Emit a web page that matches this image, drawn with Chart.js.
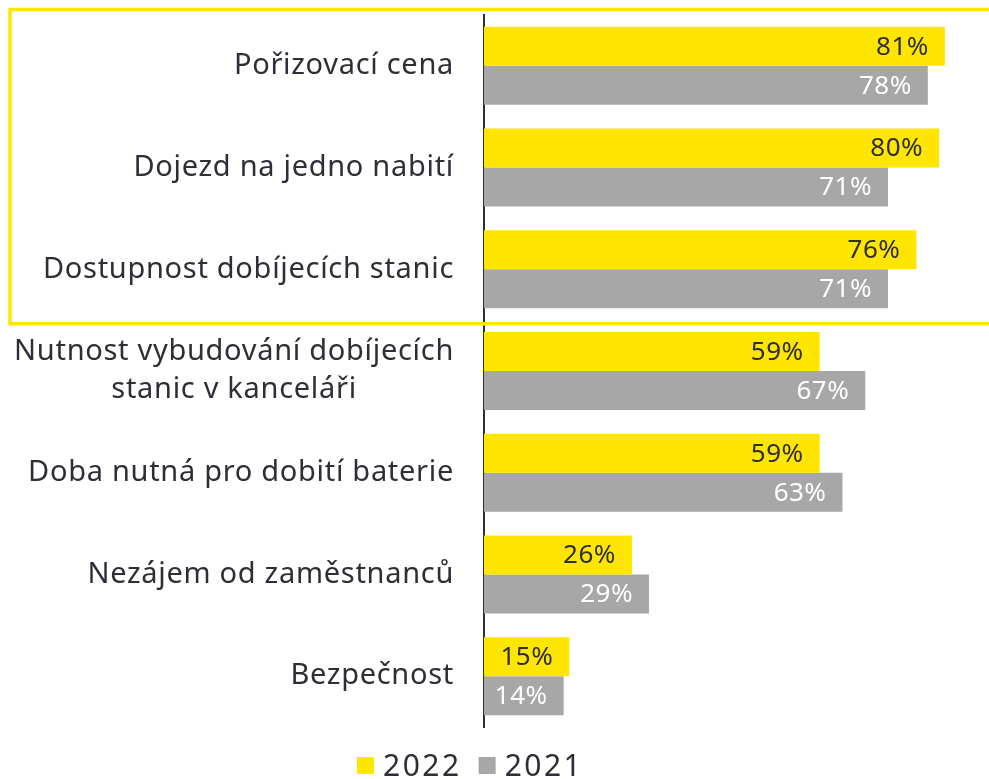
<!DOCTYPE html>
<html>
<head>
<meta charset="utf-8">
<style>
  html, body { margin: 0; padding: 0; background: #fff; }
  #wrap { width: 989px; height: 779px; }
</style>
<script src="https://cdn.jsdelivr.net/npm/chart.js@4"></script>
</head>
<body>
<div id="wrap"><canvas id="chart" width="989" height="779"></canvas></div>
<script>
const categories = [
    'Pořizovací cena',
    'Dojezd na jedno nabití',
    'Dostupnost dobíjecích stanic',
    ['Nutnost vybudování dobíjecích', 'stanic v kanceláři'],
    'Doba nutná pro dobití baterie',
    'Nezájem od zaměstnanců',
    'Bezpečnost',
];
const values2022 = [81, 80, 76, 59, 59, 26, 15];
const values2021 = [78, 71, 71, 67, 63, 29, 14];
const seriesNames = ['2022', '2021'];

const YELLOW = '#ffe600';
const GREY = '#a7a7a7';
const INK = '#2e2e38';
const FONT = '"Noto Sans", "Open Sans", sans-serif';

// category names, drawn by hand so the two-line label stays centred
const categoryLabels = {
    id: 'categoryLabels',
    afterDraw(chart) {
        const ctx = chart.ctx;
        const y = chart.scales.y;
        const right = chart.chartArea.left - 30;
        ctx.save();
        ctx.font = '29px ' + FONT;
        ctx.letterSpacing = '0.7px';
        ctx.fillStyle = INK;
        ctx.textBaseline = 'middle';
        categories.forEach((label, i) => {
            const cy = y.getPixelForValue(i);
            if (Array.isArray(label)) {
                const w = Math.max(...label.map(l => ctx.measureText(l).width));
                const cx = right - w / 2;
                ctx.textAlign = 'center';
                const lh = 38;
                label.forEach((line, k) => {
                    ctx.fillText(line, cx, cy + (k - (label.length - 1) / 2) * lh);
                });
            } else {
                ctx.textAlign = 'right';
                ctx.fillText(label, right, cy);
            }
        });
        ctx.restore();
    }
};

// percentage inside the end of each bar
const valueLabels = {
    id: 'valueLabels',
    afterDatasetsDraw(chart) {
        const ctx = chart.ctx;
        ctx.save();
        ctx.font = '26px ' + FONT;
        ctx.letterSpacing = '0.5px';
        ctx.textAlign = 'right';
        ctx.textBaseline = 'middle';
        chart.data.datasets.forEach((ds, di) => {
            ctx.fillStyle = di === 0 ? INK : '#ffffff';
            chart.getDatasetMeta(di).data.forEach((bar, i) => {
                ctx.fillText(ds.data[i] + '%', bar.x - 16, bar.y + 1);
            });
        });
        ctx.restore();
    }
};

// yellow frame around the first three categories
const highlightBox = {
    id: 'highlightBox',
    afterDraw(chart) {
        const y = chart.scales.y;
        const half = (y.getPixelForValue(1) - y.getPixelForValue(0)) / 2;
        const top = y.getPixelForValue(0) - half - 5.5;
        const bottom = y.getPixelForValue(2) + half + 3.5;
        const ctx = chart.ctx;
        ctx.save();
        ctx.strokeStyle = YELLOW;
        ctx.lineWidth = 3.5;
        ctx.beginPath();
        ctx.moveTo(chart.width + 5, top);
        ctx.lineTo(10, top);
        ctx.lineTo(10, bottom);
        ctx.lineTo(chart.width + 5, bottom);
        ctx.stroke();
        ctx.restore();
    }
};

// legend under the plot
const bottomLegend = {
    id: 'bottomLegend',
    afterDraw(chart) {
        const ctx = chart.ctx;
        const colors = [YELLOW, GREY];
        const cy = 766;
        let x = 357;
        ctx.save();
        ctx.font = '30px ' + FONT;
        ctx.letterSpacing = '2.5px';
        ctx.textBaseline = 'middle';
        ctx.textAlign = 'left';
        seriesNames.forEach((name, i) => {
            ctx.fillStyle = colors[i];
            ctx.fillRect(x, cy - 9, 17, 17);
            ctx.fillStyle = INK;
            ctx.fillText(name, x + 26, cy + 1);
            x += 26 + ctx.measureText(name).width + 17;
        });
        ctx.restore();
    }
};

const data = {
    labels: categories,
    datasets: [
        {
            label: seriesNames[0],
            data: values2022,
            backgroundColor: YELLOW,
        },
        {
            label: seriesNames[1],
            data: values2021,
            backgroundColor: GREY,
        },
    ],
};

const config = {
    type: 'bar',
    data: data,
    options: {
        indexAxis: 'y',
        responsive: false,
        animation: false,
        layout: {
            padding: { top: 15, bottom: 52, left: 0, right: 0 },
        },
        datasets: {
            bar: {
                categoryPercentage: 0.767,
                barPercentage: 1,
                borderWidth: 0,
            },
        },
        plugins: {
            legend: { display: false },
            tooltip: { enabled: false },
        },
        scales: {
            x: {
                display: false,
                min: 0,
                max: 88.75,
            },
            y: {
                ticks: { display: false },
                grid: { display: false },
                border: { display: true, color: INK, width: 2 },
                afterFit(scale) {
                    scale.width = 484;
                },
            },
        },
    },
    plugins: [highlightBox, valueLabels, categoryLabels, bottomLegend],
};

const element = document.getElementById('chart');
const chart = new Chart(element, config);
</script>
</body>
</html>
